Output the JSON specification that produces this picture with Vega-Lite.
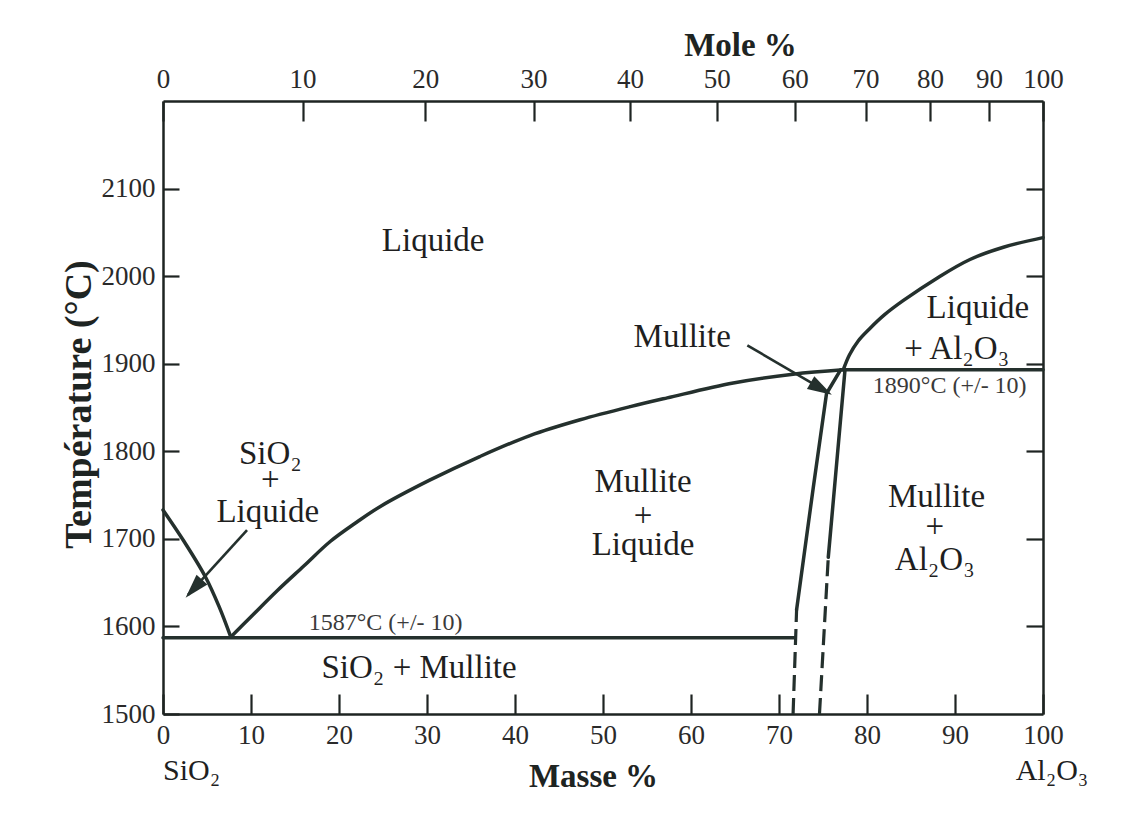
{
  "$schema": "https://vega.github.io/schema/vega-lite/v6.json",
  "width": 880,
  "height": 613,
  "autosize": {"type": "none"},
  "padding": {"left": 163, "top": 101, "right": 91, "bottom": 100},
  "background": "white",
  "config": {
    "view": {"stroke": null},
    "font": "Liberation Serif",
    "axis": {
      "grid": false,
      "domainColor": "#1e2422",
      "domainWidth": 2.5,
      "tickColor": "#1e2422",
      "tickWidth": 2.2,
      "labelFont": "Liberation Serif",
      "labelFontSize": 27,
      "labelColor": "#2a2a2a",
      "labelFlush": false,
      "titleFont": "Liberation Serif",
      "titleFontSize": 33,
      "titleFontWeight": "bold",
      "titleColor": "#1e2422"
    }
  },
  "datasets": {
    "curves": [
      {"id": "A", "i": 1, "x": 0, "t": 1733},
      {"id": "A", "i": 2, "x": 2.4, "t": 1697},
      {"id": "A", "i": 3, "x": 4.8, "t": 1657},
      {"id": "A", "i": 4, "x": 6.4, "t": 1622},
      {"id": "A", "i": 5, "x": 7.7, "t": 1588},
      {"id": "B", "i": 1, "x": 7.7, "t": 1588},
      {"id": "B", "i": 2, "x": 10, "t": 1611},
      {"id": "B", "i": 3, "x": 13, "t": 1641},
      {"id": "B", "i": 4, "x": 16, "t": 1669},
      {"id": "B", "i": 5, "x": 19, "t": 1697},
      {"id": "B", "i": 6, "x": 22, "t": 1719},
      {"id": "B", "i": 7, "x": 24.7, "t": 1737},
      {"id": "B", "i": 8, "x": 30.3, "t": 1767},
      {"id": "B", "i": 9, "x": 36, "t": 1794},
      {"id": "B", "i": 10, "x": 41.7, "t": 1818},
      {"id": "B", "i": 11, "x": 47.4, "t": 1836},
      {"id": "B", "i": 12, "x": 53.1, "t": 1851},
      {"id": "B", "i": 13, "x": 57.3, "t": 1861},
      {"id": "B", "i": 14, "x": 64.8, "t": 1878},
      {"id": "B", "i": 15, "x": 71.6, "t": 1888},
      {"id": "B", "i": 16, "x": 77.3, "t": 1893},
      {"id": "C", "i": 1, "x": 77.3, "t": 1893},
      {"id": "C", "i": 2, "x": 78.0, "t": 1910},
      {"id": "C", "i": 3, "x": 79.0, "t": 1926},
      {"id": "C", "i": 4, "x": 80.3, "t": 1940},
      {"id": "C", "i": 5, "x": 82.0, "t": 1956},
      {"id": "C", "i": 6, "x": 84.1, "t": 1972},
      {"id": "C", "i": 7, "x": 88.0, "t": 1998},
      {"id": "C", "i": 8, "x": 91.7, "t": 2019},
      {"id": "C", "i": 9, "x": 95.5, "t": 2033},
      {"id": "C", "i": 10, "x": 100, "t": 2044}
    ],
    "straight": [
      {"id": "D", "i": 1, "x": 77.3, "t": 1893},
      {"id": "D", "i": 2, "x": 100, "t": 1893},
      {"id": "E", "i": 1, "x": 0, "t": 1587},
      {"id": "E", "i": 2, "x": 71.8, "t": 1587},
      {"id": "F", "i": 1, "x": 72.0, "t": 1619},
      {"id": "F", "i": 2, "x": 73.9, "t": 1759},
      {"id": "F", "i": 3, "x": 75.4, "t": 1866},
      {"id": "F", "i": 4, "x": 77.0, "t": 1893},
      {"id": "G", "i": 1, "x": 75.6, "t": 1679},
      {"id": "G", "i": 2, "x": 77.5, "t": 1893}
    ],
    "dashed": [
      {"id": "H", "i": 1, "x": 71.6, "t": 1500},
      {"id": "H", "i": 2, "x": 72.0, "t": 1619},
      {"id": "I", "i": 1, "x": 74.6, "t": 1500},
      {"id": "I", "i": 2, "x": 75.6, "t": 1679}
    ],
    "pointers": [
      {"id": "P1", "i": 1, "x": 9.55, "t": 1710},
      {"id": "P1", "i": 2, "x": 2.84, "t": 1636},
      {"id": "P2", "i": 1, "x": 66.4, "t": 1921},
      {"id": "P2", "i": 2, "x": 75.6, "t": 1867}
    ],
    "heads": [
      {"id": "P1", "x": 3.5, "t": 1643},
      {"id": "P2", "x": 74.8, "t": 1871.5}
    ],
    "regions": [
      {"label": "Liquide", "x": 30.7, "t": 2040},
      {"label": "SiO₂", "x": 12.2, "t": 1797},
      {"label": "+", "x": 12.2, "t": 1767},
      {"label": "Liquide", "x": 11.9, "t": 1731},
      {"label": "Mullite", "x": 54.55, "t": 1765},
      {"label": "+", "x": 54.55, "t": 1726},
      {"label": "Liquide", "x": 54.55, "t": 1693},
      {"label": "Mullite", "x": 87.9, "t": 1748},
      {"label": "+", "x": 87.7, "t": 1714},
      {"label": "Al₂O₃", "x": 87.7, "t": 1676},
      {"label": "Liquide", "x": 92.6, "t": 1964},
      {"label": "+ Al₂O₃", "x": 90.2, "t": 1917},
      {"label": "Mullite", "x": 59.0, "t": 1930},
      {"label": "SiO₂ + Mullite", "x": 29.1, "t": 1553}
    ],
    "temps": [
      {"label": "1890°C (+/- 10)", "x": 89.4, "t": 1875},
      {"label": "1587°C (+/- 10)", "x": 25.3, "t": 1604}
    ],
    "ends": [
      {"label": "SiO₂", "x": 0, "t": 1500, "side": "left"},
      {"label": "Al₂O₃", "x": 100, "t": 1500, "side": "right"}
    ]
  },
  "layer": [
    {
      "data": {"name": "curves"},
      "mark": {"type": "line", "interpolate": "catmull-rom", "stroke": "#24302d", "strokeWidth": 3.5, "strokeCap": "round"},
      "encoding": {
        "x": {
          "field": "x", "type": "quantitative",
          "scale": {"domain": [0, 100], "nice": false, "zero": false},
          "axis": {
            "orient": "bottom",
            "values": [0, 10, 20, 30, 40, 50, 60, 70, 80, 90, 100],
            "format": "d",
            "tickSize": -20,
            "labelPadding": 28,
            "title": "Masse %",
            "titleX": 430,
            "titleY": 62,
            "titleAlign": "center",
            "titleBaseline": "middle"
          }
        },
        "y": {
          "field": "t", "type": "quantitative",
          "scale": {"domain": [1500, 2200], "nice": false, "zero": false},
          "axis": {
            "orient": "left",
            "values": [1500, 1600, 1700, 1800, 1900, 2000, 2100],
            "format": "d",
            "tickSize": -16,
            "labelPadding": 24,
            "title": "Température (°C)",
            "titleFontSize": 38,
            "titleX": -84,
            "titleY": 303,
            "titleAngle": -90,
            "titleAlign": "center",
            "titleBaseline": "middle"
          }
        },
        "detail": {"field": "id"},
        "order": {"field": "i"}
      }
    },
    {
      "data": {"name": "straight"},
      "mark": {"type": "line", "stroke": "#24302d", "strokeWidth": 3.5, "strokeCap": "round", "strokeJoin": "round"},
      "encoding": {
        "x": {"field": "x", "type": "quantitative", "scale": {"domain": [0, 100], "nice": false, "zero": false}, "axis": null},
        "y": {"field": "t", "type": "quantitative", "scale": {"domain": [1500, 2200], "nice": false, "zero": false}, "axis": null},
        "detail": {"field": "id"},
        "order": {"field": "i"}
      }
    },
    {
      "data": {"name": "dashed"},
      "mark": {"type": "line", "stroke": "#24302d", "strokeWidth": 3.2, "strokeDash": [16, 7]},
      "encoding": {
        "x": {
          "field": "x", "type": "quantitative",
          "scale": {"domain": [0, 100], "nice": false, "zero": false},
          "axis": {
            "orient": "top",
            "values": [0, 15.865, 29.789, 42.107, 53.082, 62.923, 71.796, 79.838, 87.160, 93.855, 100],
            "labelExpr": "format(round(100*(datum.value/101.96)/(datum.value/101.96+(100-datum.value)/60.08)), 'd')",
            "tickSize": -20,
            "labelPadding": 28,
            "title": "Mole %",
            "titleX": 577,
            "titleY": -56,
            "titleAlign": "center",
            "titleBaseline": "middle"
          }
        },
        "y": {
          "field": "t", "type": "quantitative",
          "scale": {"domain": [1500, 2200], "nice": false, "zero": false},
          "axis": {
            "orient": "right",
            "values": [1600, 1700, 1800, 1900, 2000, 2100],
            "labels": false,
            "tickSize": -17,
            "title": null
          }
        },
        "detail": {"field": "id"},
        "order": {"field": "i"}
      }
    },
    {
      "data": {"name": "pointers"},
      "mark": {"type": "line", "stroke": "#24302d", "strokeWidth": 2.6},
      "encoding": {
        "x": {"field": "x", "type": "quantitative", "scale": {"domain": [0, 100], "nice": false, "zero": false}, "axis": null},
        "y": {"field": "t", "type": "quantitative", "scale": {"domain": [1500, 2200], "nice": false, "zero": false}, "axis": null},
        "detail": {"field": "id"},
        "order": {"field": "i"}
      }
    },
    {
      "data": {"name": "heads"},
      "transform": [{"filter": "datum.id === 'P1'"}],
      "mark": {"type": "point", "shape": "M0,-1L0.6,1L-0.6,1Z", "filled": true, "fill": "#24302d", "opacity": 1, "size": 600, "angle": 222},
      "encoding": {
        "x": {"field": "x", "type": "quantitative", "scale": {"domain": [0, 100], "nice": false, "zero": false}, "axis": null},
        "y": {"field": "t", "type": "quantitative", "scale": {"domain": [1500, 2200], "nice": false, "zero": false}, "axis": null}
      }
    },
    {
      "data": {"name": "heads"},
      "transform": [{"filter": "datum.id === 'P2'"}],
      "mark": {"type": "point", "shape": "M0,-1L0.6,1L-0.6,1Z", "filled": true, "fill": "#24302d", "opacity": 1, "size": 600, "angle": 120},
      "encoding": {
        "x": {"field": "x", "type": "quantitative", "scale": {"domain": [0, 100], "nice": false, "zero": false}, "axis": null},
        "y": {"field": "t", "type": "quantitative", "scale": {"domain": [1500, 2200], "nice": false, "zero": false}, "axis": null}
      }
    },
    {
      "data": {"name": "regions"},
      "mark": {"type": "text", "font": "Liberation Serif", "fontSize": 33, "color": "#1f1f1f", "align": "center", "baseline": "middle"},
      "encoding": {
        "x": {"field": "x", "type": "quantitative", "scale": {"domain": [0, 100], "nice": false, "zero": false}, "axis": null},
        "y": {"field": "t", "type": "quantitative", "scale": {"domain": [1500, 2200], "nice": false, "zero": false}, "axis": null},
        "text": {"field": "label"}
      }
    },
    {
      "data": {"name": "temps"},
      "mark": {"type": "text", "font": "Liberation Serif", "fontSize": 24, "color": "#3a3a3a", "align": "center", "baseline": "middle"},
      "encoding": {
        "x": {"field": "x", "type": "quantitative", "scale": {"domain": [0, 100], "nice": false, "zero": false}, "axis": null},
        "y": {"field": "t", "type": "quantitative", "scale": {"domain": [1500, 2200], "nice": false, "zero": false}, "axis": null},
        "text": {"field": "label"}
      }
    },
    {
      "data": {"name": "ends"},
      "transform": [{"filter": "datum.side === 'left'"}],
      "mark": {"type": "text", "font": "Liberation Serif", "fontSize": 30, "color": "#1f1f1f", "align": "left", "baseline": "middle", "dy": 57, "dx": 0},
      "encoding": {
        "x": {"field": "x", "type": "quantitative", "scale": {"domain": [0, 100], "nice": false, "zero": false}, "axis": null},
        "y": {"field": "t", "type": "quantitative", "scale": {"domain": [1500, 2200], "nice": false, "zero": false}, "axis": null},
        "text": {"field": "label"}
      }
    },
    {
      "data": {"name": "ends"},
      "transform": [{"filter": "datum.side === 'right'"}],
      "mark": {"type": "text", "font": "Liberation Serif", "fontSize": 30, "color": "#1f1f1f", "align": "center", "baseline": "middle", "dy": 57, "dx": 9},
      "encoding": {
        "x": {"field": "x", "type": "quantitative", "scale": {"domain": [0, 100], "nice": false, "zero": false}, "axis": null},
        "y": {"field": "t", "type": "quantitative", "scale": {"domain": [1500, 2200], "nice": false, "zero": false}, "axis": null},
        "text": {"field": "label"}
      }
    }
  ],
  "resolve": {"axis": {"x": "independent", "y": "independent"}}
}
